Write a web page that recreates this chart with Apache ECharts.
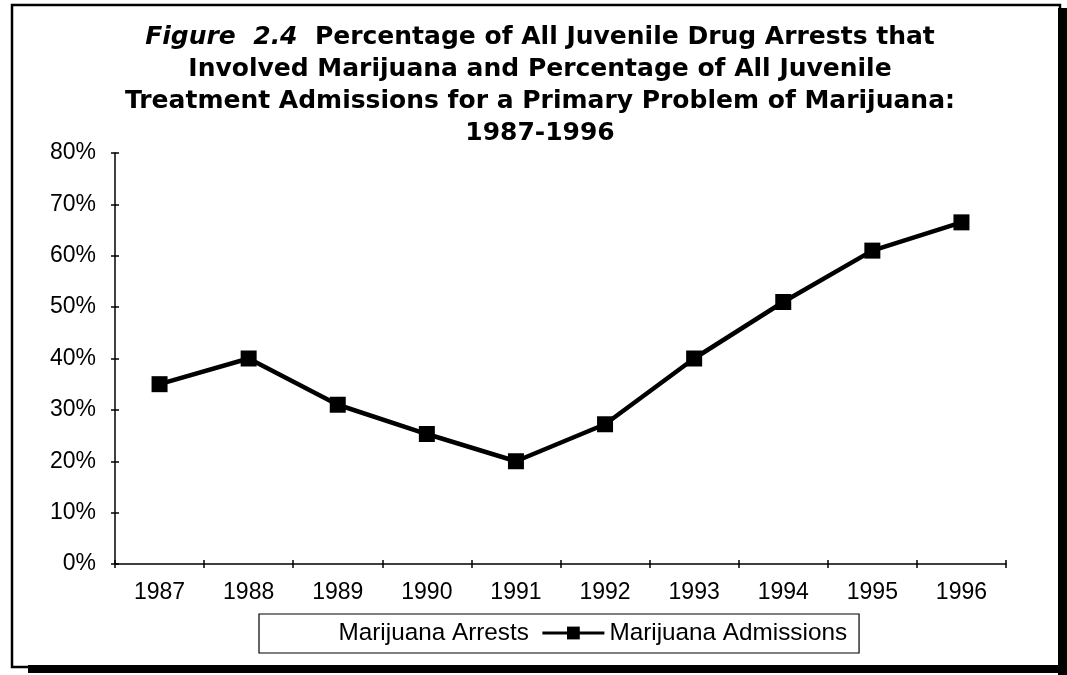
<!DOCTYPE html>
<html>
<head>
<meta charset="utf-8">
<script src="https://cdn.jsdelivr.net/npm/echarts@6/dist/echarts.min.js"></script>
<style>
html,body{margin:0;padding:0;background:#fff;}
#chart{width:1067px;height:675px;}
</style>
</head>
<body>
<div id="chart"></div>
<script>
var years = ['1987','1988','1989','1990','1991','1992','1993','1994','1995','1996'];
var admissions = [35, 40, 31, 25.3, 20, 27.2, 40, 51, 61, 66.5];
var arrests = [];
var yTicks = [0, 10, 20, 30, 40, 50, 60, 70, 80];
var titleLines = [
  '{it|Figure  2.4}  Percentage of All Juvenile Drug Arrests that',
  'Involved Marijuana and Percentage of All Juvenile',
  'Treatment Admissions for a Primary Problem of Marijuana:',
  '1987-1996'
];

var chart = echarts.init(document.getElementById('chart'));
var titleFont = 'DejaVu Sans';
var titleSize = 25;
var titleCenters = [37, 69, 101, 133];
var titles = titleLines.map(function (t, i) {
  return {
    text: t,
    left: 540,
    textAlign: 'center',
    top: titleCenters[i] - 12.5,
    padding: 0,
    textStyle: {
      fontFamily: titleFont, fontWeight: 'bold', fontSize: titleSize, lineHeight: 25, color: '#000',
      rich: { it: { fontFamily: titleFont, fontWeight: 'bold', fontStyle: 'italic', fontSize: titleSize, lineHeight: 25, color: '#000' } }
    }
  };
});

var axisFont = { fontFamily: 'Liberation Sans', fontSize: 23, color: '#000' };
chart.setOption({
  animation: false,
  backgroundColor: '#fff',
  title: titles,
  grid: { left: 115, right: 61, top: 153, bottom: 111, containLabel: false },
  xAxis: [{
    type: 'category', data: years, boundaryGap: true,
    axisLine: { lineStyle: { color: '#000', width: 1.5 } },
    axisTick: { show: true, length: 4, lineStyle: { color: '#000', width: 1.5 } },
    axisLabel: Object.assign({ margin: 17 }, axisFont),
    splitLine: { show: false }
  }, {
    type: 'category', data: years, boundaryGap: true, position: 'bottom',
    axisLine: { show: false },
    axisTick: { show: true, inside: true, length: 4, lineStyle: { color: '#000', width: 1.5 } },
    axisLabel: { show: false }, splitLine: { show: false }
  }],
  yAxis: [{
    type: 'value', min: yTicks[0], max: yTicks[yTicks.length - 1], interval: 10,
    axisLine: { show: true, lineStyle: { color: '#000', width: 1.5 } },
    axisTick: { show: true, length: 4, lineStyle: { color: '#000', width: 1.5 } },
    axisLabel: Object.assign({ margin: 19, formatter: '{value}%' }, axisFont),
    splitLine: { show: false }
  }, {
    type: 'value', min: yTicks[0], max: yTicks[yTicks.length - 1], interval: 10, position: 'left',
    axisLine: { show: false },
    axisTick: { show: true, inside: true, length: 4, lineStyle: { color: '#000', width: 1.5 } },
    axisLabel: { show: false }, splitLine: { show: false }
  }],
  legend: {
    left: 259, top: 614,
    padding: [7, 12, 8, 11],
    itemGap: 12,
    itemWidth: 62, itemHeight: 16,
    borderColor: '#000', borderWidth: 1.2, borderRadius: 0,
    backgroundColor: '#fff',
    lineStyle: { width: 3 },
    textStyle: { fontFamily: 'Liberation Sans', fontSize: 24.3, color: '#000' },
    data: ['Marijuana Arrests', 'Marijuana Admissions']
  },
  series: [{
    name: 'Marijuana Arrests', type: 'line', data: arrests,
    symbol: 'none',
    lineStyle: { color: 'rgba(0,0,0,0)', width: 0 },
    itemStyle: { color: 'rgba(0,0,0,0)' }
  }, {
    name: 'Marijuana Admissions', type: 'line', data: admissions,
    symbol: 'rect', symbolSize: 16,
    lineStyle: { color: '#000', width: 4.5 },
    itemStyle: { color: '#000' }
  }],
  graphic: [
    { type: 'rect', shape: { x: 12, y: 5, width: 1048, height: 662 }, style: { fill: 'none', stroke: '#000', lineWidth: 2.5 }, silent: true, z: 100 },
    { type: 'rect', shape: { x: 1058, y: 8, width: 9, height: 667 }, style: { fill: '#000' }, silent: true, z: 100 },
    { type: 'rect', shape: { x: 28, y: 665, width: 1039, height: 8 }, style: { fill: '#000' }, silent: true, z: 100 }
  ]
});
</script>
</body>
</html>
